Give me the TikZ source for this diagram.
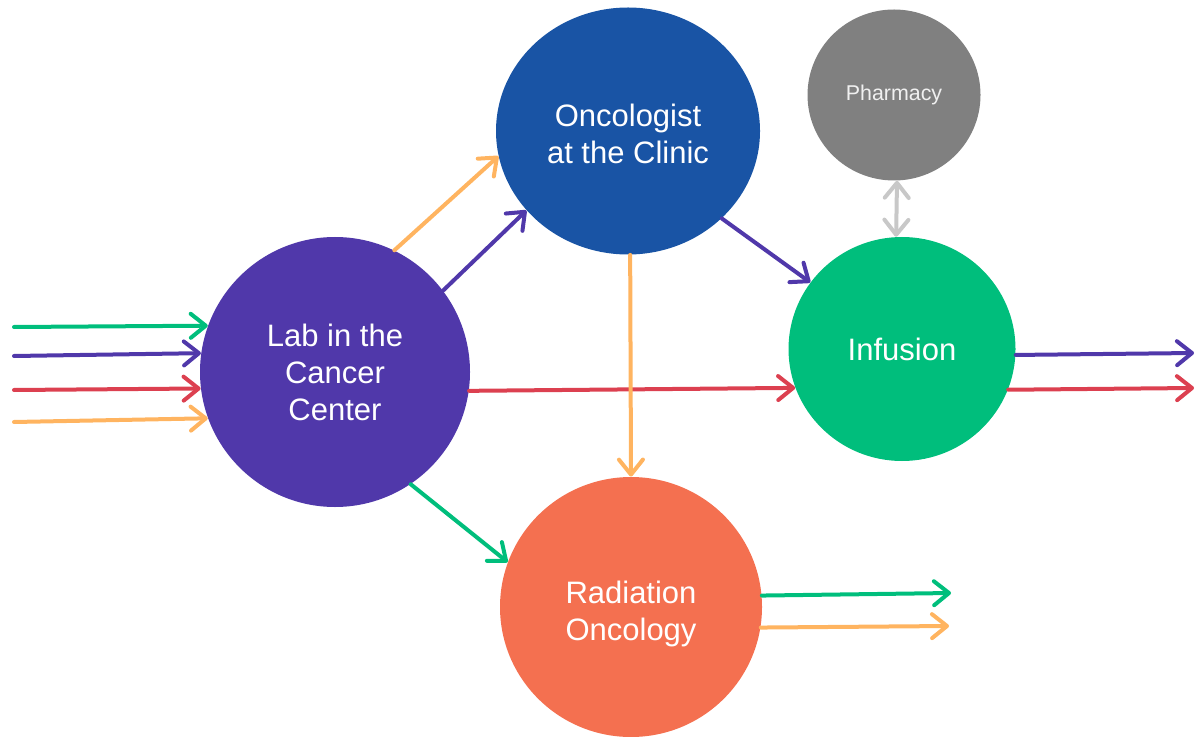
\documentclass[tikz,border=0pt]{standalone}
\usepackage{fontspec}
\setmainfont{Liberation Sans}
\usetikzlibrary{shapes.geometric,arrows.meta}
\definecolor{labpurple}{RGB}{80,56,170}
\definecolor{oncblue}{RGB}{25,84,165}
\definecolor{pharmgray}{RGB}{128,128,128}
\definecolor{infgreen}{RGB}{0,190,124}
\definecolor{radorange}{RGB}{244,112,80}
\definecolor{arrorange}{RGB}{255,180,96}
\definecolor{arrred}{RGB}{220,64,80}
\definecolor{arrgreen}{RGB}{0,190,124}
\definecolor{arrpurple}{RGB}{80,56,170}
\definecolor{arrgray}{RGB}{200,200,200}
\newcommand{\blobtext}[2]{\raisebox{#1}[\height][\depth]{\begin{tabular}{@{}c@{}}#2\end{tabular}}}
\tikzset{
  blob/.style={ellipse, inner sep=0pt, draw=none, text=white, align=center,
    font=\fontsize{15.5pt}{18.5pt}\selectfont},
  flow/.style={line width=2pt, line cap=round,
    -{Straight Barb[length=7.5pt,width=12pt,round]}},
  dflow/.style={line width=2pt, line cap=round,
    {Straight Barb[length=7.5pt,width=12pt,round]}-{Straight Barb[length=7.5pt,width=12pt,round]}}
}
\begin{document}
\begin{tikzpicture}[x=0.5pt,y=-0.5pt]
\useasboundingbox (0,0) rectangle (1197,737);
\node[blob, fill=labpurple, minimum width=135pt, minimum height=135pt] (lab) at (335,372) {Lab in the\\Cancer\\Center};
\node[blob, fill=oncblue, minimum width=132pt, minimum height=123.5pt] (onc) at (628,131) {\blobtext{-3.5pt}{Oncologist\\at the Clinic}};
\node[blob, fill=pharmgray, minimum width=86.5pt, minimum height=85.5pt, text={rgb,255:red,240;green,240;blue,240}, font=\fontsize{10.7pt}{12pt}\selectfont] (pharm) at (894,95) {Pharmacy};
\node[blob, fill=infgreen, minimum width=113.5pt, minimum height=112pt] (inf) at (902,349) {Infusion};
\node[blob, fill=radorange, minimum width=131pt, minimum height=130pt] (rad) at (631,607) {\blobtext{-4pt}{Radiation\\Oncology}};

\coordinate (ing) at (14,327);
\coordinate (inp) at (14,356);
\coordinate (inr) at (14,390);
\coordinate (ino) at (14,422);
\coordinate (outp) at (1194,353);
\coordinate (outr) at (1194,388);
\coordinate (outg) at (951,593);
\coordinate (outo) at (949,626);

\draw[flow, arrgreen] (ing) -- (lab.160);
\draw[flow, arrpurple] (inp) -- (lab.172);
\draw[flow, arrred] (inr) -- (lab.187);
\draw[flow, arrorange] (ino) -- (lab.200);

\draw[flow, arrorange] (lab.64) -- (onc.191);
\draw[flow, arrpurple] (lab.37) -- (onc.218);
\draw[flow, arrred] (lab.-8) -- (inf.200);
\draw[flow, arrgreen] (lab.-56) -- (rad.160);
\draw[flow, arrorange] (onc.-89) -- (rad.north);
\draw[flow, arrpurple] (onc.-43) -- (inf.144);
\draw[dflow, arrgray] (pharm.-88) -- (inf.93);

\draw[flow, arrpurple] (inf.-3) -- (outp);
\draw[flow, arrred] (inf.-21) -- (outr);
\draw[flow, arrgreen] (rad.5) -- (outg);
\draw[flow, arrorange] (rad.-9) -- (outo);
\end{tikzpicture}
\end{document}
